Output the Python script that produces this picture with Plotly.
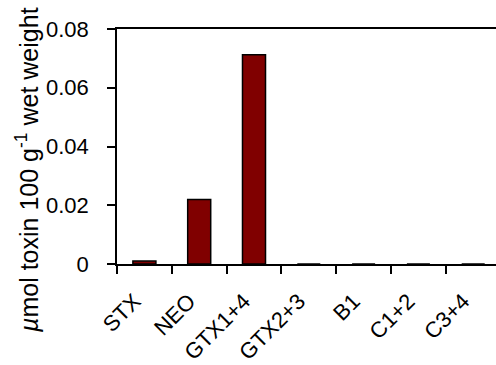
import plotly.graph_objects as go

categories = ["STX", "NEO", "GTX1+4", "GTX2+3", "B1", "C1+2", "C3+4"]
values = [0.001, 0.022, 0.0712, 0, 0, 0, 0]
y_ticks = [0, 0.02, 0.04, 0.06, 0.08]
y_tick_labels = ["0", "0.02", "0.04", "0.06", "0.08"]

W, H = 496, 365
ml, mr, mt, mb = 117, 0, 29, 101
pw = W - ml - mr
ph = H - mt - mb
cat_w = 54.8
n_span = pw / cat_w

fig = go.Figure()
fig.add_trace(go.Bar(
    x=categories, y=values, width=0.42,
    marker=dict(color="#800000", line=dict(color="black", width=1.5)),
))

font = dict(family="Liberation Sans, Arial, sans-serif", size=22, color="black")
tfont = dict(family="Liberation Sans, Arial, sans-serif", size=25, color="black")

fig.update_layout(
    width=W, height=H,
    margin=dict(l=ml, r=mr, t=mt, b=mb, pad=0, autoexpand=False),
    plot_bgcolor="white", paper_bgcolor="white",
    showlegend=False,
    font=font,
    xaxis=dict(
        type="category", range=[-0.5, -0.5 + n_span],
        showline=True, linecolor="black", linewidth=1.5, mirror=True,
        ticks="outside", tickson="boundaries", ticklen=8, tickcolor="black", tickwidth=1.5,
        tickangle=-45, tickfont=font, showgrid=False, zeroline=False,
        ticklabelstandoff=14, ticklabelshift=-10,
    ),
    yaxis=dict(
        range=[0, 0.08], tickvals=y_ticks, ticktext=y_tick_labels,
        showline=True, linecolor="black", linewidth=1.5,
        ticks="outside", ticklen=8, tickcolor="black", tickwidth=1.5,
        tickfont=font, showgrid=False, zeroline=False, ticklabelstandoff=14,
    ),
    annotations=[dict(
        text="<i>µ</i>mol toxin 100 g<sup>-1</sup> wet weight",
        xref="paper", yref="paper", x=(27 - ml) / pw, y=(264 - 170) / ph,
        xanchor="center", yanchor="middle", textangle=-90, showarrow=False,
        font=tfont,
    )],
    shapes=[dict(type="line", xref="paper", yref="paper", x0=-8 / pw, x1=0, y0=0, y1=0,
                 line=dict(color="black", width=1.5))],
)

fig.write_html("out.html", config={"displayModeBar": False},
               post_script="document.body.style.margin='0';document.body.style.padding='0';")
